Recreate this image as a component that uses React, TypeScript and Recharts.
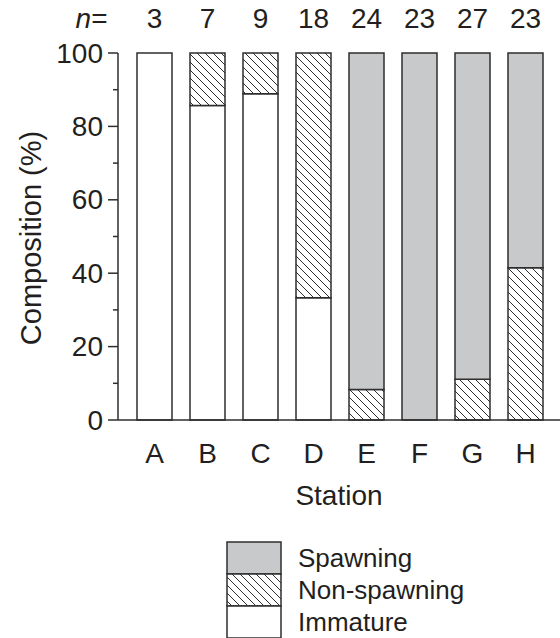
import React from 'react';
import { BarChart, Bar, XAxis, YAxis, Label } from 'recharts';

const stations = ['A', 'B', 'C', 'D', 'E', 'F', 'G', 'H'];
const sampleSizes = [3, 7, 9, 18, 24, 23, 27, 23];
const immature = [100, 85.7, 88.9, 33.3, 0, 0, 0, 0];
const nonSpawning = [0, 14.3, 11.1, 66.7, 8.3, 0, 11.1, 41.5];
const spawning = [0, 0, 0, 0, 91.7, 100, 88.9, 58.5];
const yTicks = [0, 10, 20, 30, 40, 50, 60, 70, 80, 90, 100];
const majorTicks = [0, 20, 40, 60, 80, 100];
const legendItems = ['Spawning', 'Non-spawning', 'Immature'];

const data = stations.map((s, i) => ({
  station: s,
  n: sampleSizes[i],
  immature: immature[i],
  nonSpawning: nonSpawning[i],
  spawning: spawning[i],
}));

const INK = '#2e2e2e';
const TXT = '#231f20';
const GRAY = '#c8c9cb';
const FONT = '"Liberation Sans", Arial, Helvetica, sans-serif';
const FS = 28;

const YTick = (props: any) => {
  const { x, y, payload } = props;
  const major = majorTicks.includes(payload.value);
  return (
    <g>
      <line x1={x - (major ? 10 : 5)} x2={x} y1={y} y2={y} stroke={INK} strokeWidth={1.5} />
      {major && (
        <text x={x - 15} y={y} dy={9.5} textAnchor="end" fontSize={FS} fontFamily={FONT} fill={TXT}>
          {payload.value}
        </text>
      )}
    </g>
  );
};

const XTick = (props: any) => {
  const { x, y, payload } = props;
  return (
    <text x={x} y={y + 43} textAnchor="middle" fontSize={FS} fontFamily={FONT} fill={TXT}>
      {payload.value}
    </text>
  );
};

const NTick = (props: any) => {
  const { x, y, index } = props;
  return (
    <g>
      {index === 0 && (
        <text x={x - 47} y={y - 25} textAnchor="end" fontSize={FS} fontFamily={FONT} fill={TXT}>
          <tspan fontStyle="italic">n</tspan>=
        </text>
      )}
      <text x={x} y={y - 25} textAnchor="middle" fontSize={FS} fontFamily={FONT} fill={TXT}>
        {sampleSizes[index]}
      </text>
    </g>
  );
};

const HatchDef = ({ id }: { id: string }) => (
  <pattern id={id} patternUnits="userSpaceOnUse" width={8} height={8}>
    <rect x={0} y={0} width={8} height={8} fill="#ffffff" />
    <path d="M0,0 L8,8 M-1,7 L1,9 M7,-1 L9,1" stroke={INK} strokeWidth={1} />
  </pattern>
);

const legendFill = ['#c8c9cb', 'url(#hatchLegend)', '#ffffff'];

export default function App() {
  return (
    <div style={{ position: 'absolute', left: 0, top: 0, width: 560, height: 638, background: '#fff' }}>
      <BarChart
        width={560}
        height={638}
        data={data}
        margin={{ top: 0, right: 0, bottom: 158, left: 0 }}
        barSize={35}
      >
        <defs>
          <HatchDef id="hatch" />
        </defs>
        <XAxis
          xAxisId="top"
          orientation="top"
          dataKey="station"
          height={53}
          axisLine={false}
          tickLine={false}
          tickSize={0}
          tickMargin={0}
          padding={{ left: 10, right: 8 }}
          tick={<NTick />}
          interval={0}
        />
        <XAxis
          dataKey="station"
          height={60}
          axisLine={{ stroke: INK, strokeWidth: 1.5 }}
          tickLine={false}
          tickSize={0}
          tickMargin={0}
          padding={{ left: 10, right: 8 }}
          tick={<XTick />}
          interval={0}
        >
          <Label
            value="Station"
            position="bottom"
            offset={5}
            fontSize={FS}
            fontFamily={FONT}
            fill={TXT}
          />
        </XAxis>
        <YAxis
          width={118}
          domain={[0, 100]}
          ticks={yTicks}
          interval={0}
          axisLine={{ stroke: INK, strokeWidth: 1.5 }}
          tickLine={false}
          tickSize={0}
          tickMargin={0}
          tick={<YTick />}
        >
          <Label
            content={() => (
              <text
                x={41}
                y={238}
                transform="rotate(-90, 41, 238)"
                textAnchor="middle"
                fontSize={29}
                fontFamily={FONT}
                fill={TXT}
              >
                Composition (%)
              </text>
            )}
          />
        </YAxis>
        <Bar dataKey="immature" stackId="s" fill="#ffffff" stroke={INK} strokeWidth={1.5} isAnimationActive={false} />
        <Bar dataKey="nonSpawning" stackId="s" fill="url(#hatch)" stroke={INK} strokeWidth={1.5} isAnimationActive={false} />
        <Bar dataKey="spawning" stackId="s" fill={GRAY} stroke={INK} strokeWidth={1.5} isAnimationActive={false} />
      </BarChart>
      <svg
        width={300}
        height={100}
        style={{ position: 'absolute', left: 220, top: 538 }}
      >
        <defs>
          <HatchDef id="hatchLegend" />
        </defs>
        {legendItems.map((name, i) => (
          <g key={name}>
            <rect
              x={7}
              y={4 + i * 32}
              width={54}
              height={32}
              fill={legendFill[i]}
              stroke={INK}
              strokeWidth={1.5}
            />
            <text x={78} y={4 + i * 32 + 25} fontSize={26} fontFamily={FONT} fill={TXT}>
              {name}
            </text>
          </g>
        ))}
      </svg>
    </div>
  );
}
